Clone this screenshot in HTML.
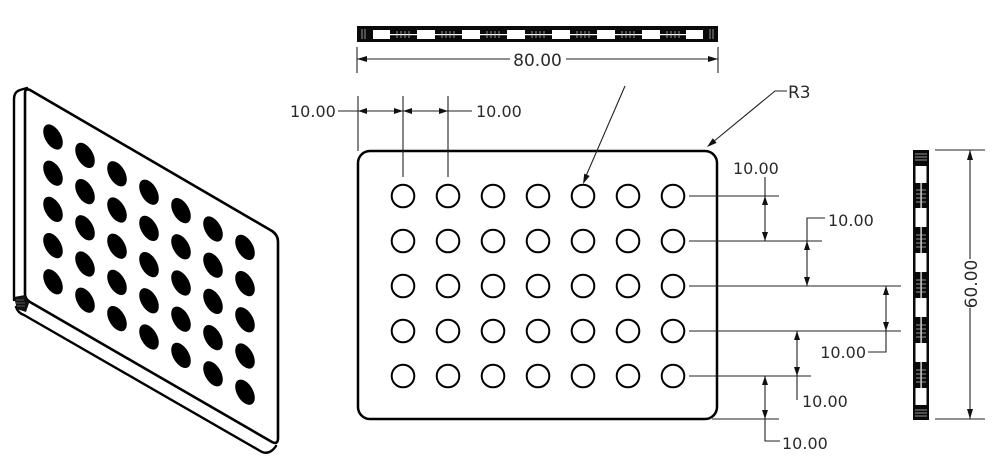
<!DOCTYPE html>
<html>
<head>
<meta charset="utf-8">
<style>
html,body{margin:0;padding:0;background:#fff;}
svg{display:block;}
text{font-family:"DejaVu Sans","Liberation Sans",sans-serif;fill:#2a2a2a;}
</style>
</head>
<body>
<svg width="1000" height="472" viewBox="0 0 1000 472" xmlns="http://www.w3.org/2000/svg">
  <rect width="1000" height="472" fill="#fff"/>

  <!-- ============ ISOMETRIC VIEW ============ -->
  <g fill="none" stroke="#000" stroke-linejoin="round" stroke-linecap="round">
    <!-- face -->
    <path d="M25,93 Q25,88 30,90 L272,231 Q278,235 278,242 L278,438 Q278,445 272,442 L30,302 Q25,299 25,294 Z" stroke-width="2.6" fill="#fff"/>
    <!-- left strip -->
    <path d="M14,99 Q14,92 20,90 L27,88" stroke-width="2.4"/>
    <path d="M14,99 L14,300" stroke-width="2.4"/>
    <!-- bottom strip -->
    <path d="M16,307 Q18,313 24,315 L262,452 Q270,455 276,446" stroke-width="2.4"/>
  </g>
  <!-- bottom-left corner hatch -->
  <g>
    <path d="M14,297 L25,295 L29,303 L26,312 L17,309 Z" fill="#111"/>
    <line x1="16" y1="300" x2="24" y2="300" stroke="#777" stroke-width="0.7"/>
    <line x1="16" y1="303" x2="25" y2="303" stroke="#777" stroke-width="0.7"/>
    <line x1="17" y1="306" x2="25" y2="306" stroke="#777" stroke-width="0.7"/>
  </g>

  <!-- iso holes -->
  <g fill="#000">
    <!-- col 0 -->
    <ellipse cx="0" cy="0" rx="11.3" ry="11.3" transform="matrix(0.866,0.5,0,1,53,137)"/>
    <ellipse cx="0" cy="0" rx="11.3" ry="11.3" transform="matrix(0.866,0.5,0,1,53,173.2)"/>
    <ellipse cx="0" cy="0" rx="11.3" ry="11.3" transform="matrix(0.866,0.5,0,1,53,209.4)"/>
    <ellipse cx="0" cy="0" rx="11.3" ry="11.3" transform="matrix(0.866,0.5,0,1,53,245.6)"/>
    <ellipse cx="0" cy="0" rx="11.3" ry="11.3" transform="matrix(0.866,0.5,0,1,53,281.8)"/>
    <!-- col 1 -->
    <ellipse cx="0" cy="0" rx="11.3" ry="11.3" transform="matrix(0.866,0.5,0,1,85,155.4)"/>
    <ellipse cx="0" cy="0" rx="11.3" ry="11.3" transform="matrix(0.866,0.5,0,1,85,191.6)"/>
    <ellipse cx="0" cy="0" rx="11.3" ry="11.3" transform="matrix(0.866,0.5,0,1,85,227.8)"/>
    <ellipse cx="0" cy="0" rx="11.3" ry="11.3" transform="matrix(0.866,0.5,0,1,85,264)"/>
    <ellipse cx="0" cy="0" rx="11.3" ry="11.3" transform="matrix(0.866,0.5,0,1,85,300.2)"/>
    <!-- col 2 -->
    <ellipse cx="0" cy="0" rx="11.3" ry="11.3" transform="matrix(0.866,0.5,0,1,117,173.8)"/>
    <ellipse cx="0" cy="0" rx="11.3" ry="11.3" transform="matrix(0.866,0.5,0,1,117,210)"/>
    <ellipse cx="0" cy="0" rx="11.3" ry="11.3" transform="matrix(0.866,0.5,0,1,117,246.2)"/>
    <ellipse cx="0" cy="0" rx="11.3" ry="11.3" transform="matrix(0.866,0.5,0,1,117,282.4)"/>
    <ellipse cx="0" cy="0" rx="11.3" ry="11.3" transform="matrix(0.866,0.5,0,1,117,318.6)"/>
    <!-- col 3 -->
    <ellipse cx="0" cy="0" rx="11.3" ry="11.3" transform="matrix(0.866,0.5,0,1,149,192.2)"/>
    <ellipse cx="0" cy="0" rx="11.3" ry="11.3" transform="matrix(0.866,0.5,0,1,149,228.4)"/>
    <ellipse cx="0" cy="0" rx="11.3" ry="11.3" transform="matrix(0.866,0.5,0,1,149,264.6)"/>
    <ellipse cx="0" cy="0" rx="11.3" ry="11.3" transform="matrix(0.866,0.5,0,1,149,300.8)"/>
    <ellipse cx="0" cy="0" rx="11.3" ry="11.3" transform="matrix(0.866,0.5,0,1,149,337)"/>
    <!-- col 4 -->
    <ellipse cx="0" cy="0" rx="11.3" ry="11.3" transform="matrix(0.866,0.5,0,1,181,210.6)"/>
    <ellipse cx="0" cy="0" rx="11.3" ry="11.3" transform="matrix(0.866,0.5,0,1,181,246.8)"/>
    <ellipse cx="0" cy="0" rx="11.3" ry="11.3" transform="matrix(0.866,0.5,0,1,181,283)"/>
    <ellipse cx="0" cy="0" rx="11.3" ry="11.3" transform="matrix(0.866,0.5,0,1,181,319.2)"/>
    <ellipse cx="0" cy="0" rx="11.3" ry="11.3" transform="matrix(0.866,0.5,0,1,181,355.4)"/>
    <!-- col 5 -->
    <ellipse cx="0" cy="0" rx="11.3" ry="11.3" transform="matrix(0.866,0.5,0,1,213,229)"/>
    <ellipse cx="0" cy="0" rx="11.3" ry="11.3" transform="matrix(0.866,0.5,0,1,213,265.2)"/>
    <ellipse cx="0" cy="0" rx="11.3" ry="11.3" transform="matrix(0.866,0.5,0,1,213,301.4)"/>
    <ellipse cx="0" cy="0" rx="11.3" ry="11.3" transform="matrix(0.866,0.5,0,1,213,337.6)"/>
    <ellipse cx="0" cy="0" rx="11.3" ry="11.3" transform="matrix(0.866,0.5,0,1,213,373.8)"/>
    <!-- col 6 -->
    <ellipse cx="0" cy="0" rx="11.3" ry="11.3" transform="matrix(0.866,0.5,0,1,245,247.4)"/>
    <ellipse cx="0" cy="0" rx="11.3" ry="11.3" transform="matrix(0.866,0.5,0,1,245,283.6)"/>
    <ellipse cx="0" cy="0" rx="11.3" ry="11.3" transform="matrix(0.866,0.5,0,1,245,319.8)"/>
    <ellipse cx="0" cy="0" rx="11.3" ry="11.3" transform="matrix(0.866,0.5,0,1,245,356)"/>
    <ellipse cx="0" cy="0" rx="11.3" ry="11.3" transform="matrix(0.866,0.5,0,1,245,392.2)"/>
  </g>

  <!-- ============ TOP VIEW (bar) ============ -->
  <rect x="357" y="26" width="361" height="16" fill="#0a0a0a"/>
  <g fill="#fff">
    <rect x="373" y="30" width="17" height="9"/>
    <rect x="417" y="30" width="18" height="9"/>
    <rect x="462" y="30" width="18" height="9"/>
    <rect x="507" y="30" width="18" height="9"/>
    <rect x="552" y="30" width="18" height="9"/>
    <rect x="597" y="30" width="18" height="9"/>
    <rect x="642" y="30" width="18" height="9"/>
    <rect x="686" y="30" width="17" height="9"/>
    <!-- center white line through hole regions -->
    <rect x="390" y="34" width="296" height="1.2"/>
  </g>
  <g stroke="#bbb" stroke-width="0.8">
    <line x1="362" y1="29" x2="362" y2="39"/><line x1="365" y1="29" x2="365" y2="39"/>
    <line x1="710" y1="29" x2="710" y2="39"/><line x1="713" y1="29" x2="713" y2="39"/>
    <line x1="397" y1="31" x2="397" y2="38"/><line x1="401" y1="31" x2="401" y2="38"/><line x1="405" y1="31" x2="405" y2="38"/><line x1="409" y1="31" x2="409" y2="38"/>
    <line x1="442" y1="31" x2="442" y2="38"/><line x1="446" y1="31" x2="446" y2="38"/><line x1="450" y1="31" x2="450" y2="38"/><line x1="454" y1="31" x2="454" y2="38"/>
    <line x1="487" y1="31" x2="487" y2="38"/><line x1="491" y1="31" x2="491" y2="38"/><line x1="495" y1="31" x2="495" y2="38"/><line x1="499" y1="31" x2="499" y2="38"/>
    <line x1="532" y1="31" x2="532" y2="38"/><line x1="536" y1="31" x2="536" y2="38"/><line x1="540" y1="31" x2="540" y2="38"/><line x1="544" y1="31" x2="544" y2="38"/>
    <line x1="577" y1="31" x2="577" y2="38"/><line x1="581" y1="31" x2="581" y2="38"/><line x1="585" y1="31" x2="585" y2="38"/><line x1="589" y1="31" x2="589" y2="38"/>
    <line x1="622" y1="31" x2="622" y2="38"/><line x1="626" y1="31" x2="626" y2="38"/><line x1="630" y1="31" x2="630" y2="38"/><line x1="634" y1="31" x2="634" y2="38"/>
    <line x1="667" y1="31" x2="667" y2="38"/><line x1="671" y1="31" x2="671" y2="38"/><line x1="675" y1="31" x2="675" y2="38"/><line x1="679" y1="31" x2="679" y2="38"/>
  </g>

  <!-- ============ SIDE VIEW (right bar) ============ -->
  <rect x="913" y="150" width="16" height="270" fill="#0a0a0a"/>
  <g fill="#fff">
    <rect x="915.5" y="166" width="11" height="17"/>
    <rect x="915.5" y="208" width="11" height="19"/>
    <rect x="915.5" y="253" width="11" height="19"/>
    <rect x="915.5" y="298" width="11" height="19"/>
    <rect x="915.5" y="343" width="11" height="19"/>
    <rect x="915.5" y="388" width="11" height="17"/>
    <rect x="920.5" y="183" width="1.2" height="206"/>
  </g>
  <g stroke="#bbb" stroke-width="0.8">
    <line x1="915" y1="154" x2="927" y2="154"/><line x1="915" y1="157" x2="927" y2="157"/><line x1="915" y1="160" x2="927" y2="160"/>
    <line x1="915" y1="410" x2="927" y2="410"/><line x1="915" y1="413" x2="927" y2="413"/><line x1="915" y1="416" x2="927" y2="416"/>
    <line x1="916" y1="190" x2="926" y2="190"/><line x1="916" y1="194" x2="926" y2="194"/><line x1="916" y1="198" x2="926" y2="198"/><line x1="916" y1="202" x2="926" y2="202"/>
    <line x1="916" y1="235" x2="926" y2="235"/><line x1="916" y1="239" x2="926" y2="239"/><line x1="916" y1="243" x2="926" y2="243"/><line x1="916" y1="247" x2="926" y2="247"/>
    <line x1="916" y1="280" x2="926" y2="280"/><line x1="916" y1="284" x2="926" y2="284"/><line x1="916" y1="288" x2="926" y2="288"/><line x1="916" y1="292" x2="926" y2="292"/>
    <line x1="916" y1="325" x2="926" y2="325"/><line x1="916" y1="329" x2="926" y2="329"/><line x1="916" y1="333" x2="926" y2="333"/><line x1="916" y1="337" x2="926" y2="337"/>
    <line x1="916" y1="370" x2="926" y2="370"/><line x1="916" y1="374" x2="926" y2="374"/><line x1="916" y1="378" x2="926" y2="378"/><line x1="916" y1="382" x2="926" y2="382"/>
  </g>

  <!-- ============ MAIN PLATE ============ -->
  <rect x="358" y="151" width="359" height="268" rx="12" ry="12" fill="none" stroke="#000" stroke-width="2.5"/>
  <g fill="none" stroke="#000" stroke-width="2">
    <circle cx="403" cy="196" r="11.3"/><circle cx="448" cy="196" r="11.3"/><circle cx="493" cy="196" r="11.3"/><circle cx="538" cy="196" r="11.3"/><circle cx="583" cy="196" r="11.3"/><circle cx="628" cy="196" r="11.3"/><circle cx="673" cy="196" r="11.3"/>
    <circle cx="403" cy="241" r="11.3"/><circle cx="448" cy="241" r="11.3"/><circle cx="493" cy="241" r="11.3"/><circle cx="538" cy="241" r="11.3"/><circle cx="583" cy="241" r="11.3"/><circle cx="628" cy="241" r="11.3"/><circle cx="673" cy="241" r="11.3"/>
    <circle cx="403" cy="286" r="11.3"/><circle cx="448" cy="286" r="11.3"/><circle cx="493" cy="286" r="11.3"/><circle cx="538" cy="286" r="11.3"/><circle cx="583" cy="286" r="11.3"/><circle cx="628" cy="286" r="11.3"/><circle cx="673" cy="286" r="11.3"/>
    <circle cx="403" cy="331" r="11.3"/><circle cx="448" cy="331" r="11.3"/><circle cx="493" cy="331" r="11.3"/><circle cx="538" cy="331" r="11.3"/><circle cx="583" cy="331" r="11.3"/><circle cx="628" cy="331" r="11.3"/><circle cx="673" cy="331" r="11.3"/>
    <circle cx="403" cy="376" r="11.3"/><circle cx="448" cy="376" r="11.3"/><circle cx="493" cy="376" r="11.3"/><circle cx="538" cy="376" r="11.3"/><circle cx="583" cy="376" r="11.3"/><circle cx="628" cy="376" r="11.3"/><circle cx="673" cy="376" r="11.3"/>
  </g>

  <!-- ============ DIMENSIONS ============ -->
  <g stroke="#222" stroke-width="1.1" fill="none">
    <!-- 80.00 -->
    <line x1="357" y1="47" x2="357" y2="73"/>
    <line x1="718" y1="47" x2="718" y2="73"/>
    <line x1="357" y1="59" x2="510" y2="59"/>
    <line x1="566" y1="59" x2="718" y2="59"/>
    <!-- top-left 10.00 x2 -->
    <line x1="358" y1="96" x2="358" y2="151"/>
    <line x1="403" y1="96" x2="403" y2="177"/>
    <line x1="448" y1="96" x2="448" y2="177"/>
    <line x1="338" y1="111" x2="472" y2="111"/>
    <!-- leader to hole -->
    <line x1="625" y1="86" x2="586" y2="176"/>
    <!-- R3 leader -->
    <polyline points="787,91 775,91 713,142"/>
    <!-- row extension lines -->
    <line x1="689" y1="196" x2="779" y2="196"/>
    <line x1="689" y1="241" x2="822" y2="241"/>
    <line x1="689" y1="286" x2="901" y2="286"/>
    <line x1="689" y1="331" x2="901" y2="331"/>
    <line x1="689" y1="376" x2="811" y2="376"/>
    <line x1="712" y1="419" x2="779" y2="419"/>
    <!-- dim 1 -->
    <line x1="765" y1="177" x2="765" y2="241"/>
    <!-- dim 2 -->
    <polyline points="825,218 807,218 807,286"/>
    <!-- dim 3 -->
    <polyline points="868,352 886,352 886,286"/>
    <!-- dim 4 -->
    <line x1="797" y1="331" x2="797" y2="400"/>
    <!-- dim 5 -->
    <polyline points="765,376 765,441 780,441"/>
    <!-- 60.00 -->
    <line x1="935" y1="150" x2="985" y2="150"/>
    <line x1="935" y1="419" x2="985" y2="419"/>
    <line x1="970" y1="150" x2="970" y2="259"/>
    <line x1="970" y1="308" x2="970" y2="419"/>
  </g>

  <!-- arrowheads -->
  <g fill="#111">
    <!-- 80.00 -->
    <polygon points="357,59 367,56 367,62"/>
    <polygon points="718,59 708,56 708,62"/>
    <!-- top-left -->
    <polygon points="358,111 367,108 367,114"/>
    <polygon points="403,111 394,108 394,114"/>
    <polygon points="403,111 412,108 412,114"/>
    <polygon points="448,111 439,108 439,114"/>
    <!-- hole leader -->
    <polygon points="583,184 589.7,176 584.2,173.6"/>
    <!-- R3 -->
    <polygon points="707,147 716.6,142.9 712.8,138.3"/>
    <!-- dim 1 -->
    <polygon points="765,196 762,205 768,205"/>
    <polygon points="765,241 762,232 768,232"/>
    <!-- dim 2 -->
    <polygon points="807,241 804,250 810,250"/>
    <polygon points="807,286 804,277 810,277"/>
    <!-- dim 3 -->
    <polygon points="886,286 883,295 889,295"/>
    <polygon points="886,331 883,322 889,322"/>
    <!-- dim 4 -->
    <polygon points="797,331 794,340 800,340"/>
    <polygon points="797,376 794,367 800,367"/>
    <!-- dim 5 -->
    <polygon points="765,376 762,385 768,385"/>
    <polygon points="765,419 762,410 768,410"/>
    <!-- 60.00 -->
    <polygon points="970,150 967,160 973,160"/>
    <polygon points="970,419 967,409 973,409"/>
  </g>

  <!-- labels -->
  <g font-size="16">
    <text x="537.5" y="66" text-anchor="middle" font-size="17">80.00</text>
    <text x="290" y="117">10.00</text>
    <text x="476" y="117">10.00</text>
    <text x="788" y="98" font-size="17">R3</text>
    <text x="733" y="174">10.00</text>
    <text x="828" y="226">10.00</text>
    <text x="866" y="358" text-anchor="end">10.00</text>
    <text x="802" y="407">10.00</text>
    <text x="782" y="449">10.00</text>
    <text transform="translate(977,284) rotate(-90)" text-anchor="middle" font-size="17">60.00</text>
  </g>
</svg>
</body>
</html>
